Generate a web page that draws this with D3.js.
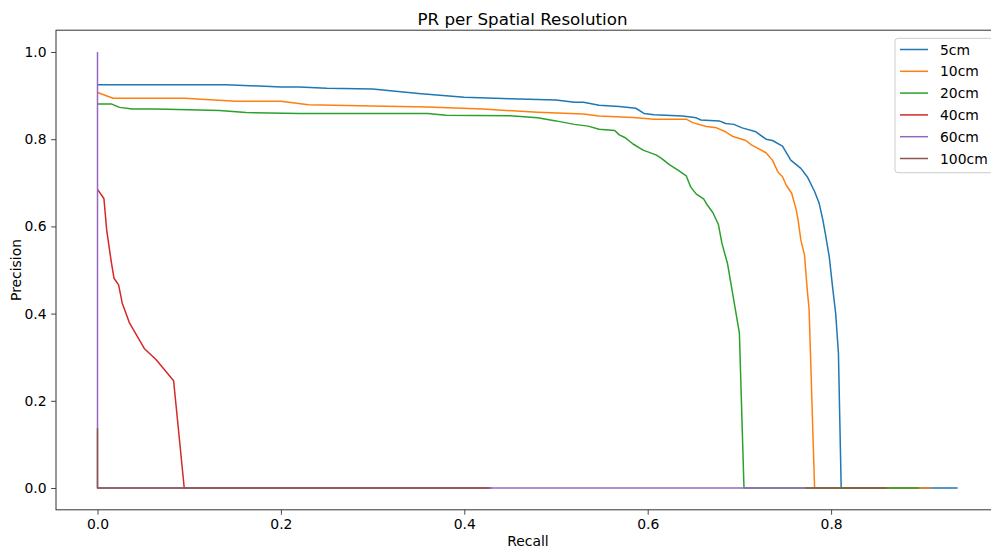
<!DOCTYPE html>
<html><head><meta charset="utf-8">
<script src="https://cdn.jsdelivr.net/npm/d3@7"></script>
<style>body{margin:0;background:#fff}svg{display:block}text{font-family:"DejaVu Sans",sans-serif;fill:#000}</style>
</head><body><svg id="c" width="991" height="548"></svg>
<script>
const seriesNames = ["5cm","10cm","20cm","40cm","60cm","100cm"];
const colors = ["#1f77b4","#ff7f0e","#2ca02c","#d62728","#9467bd","#8c564b"];
const xTicks = [0,0.2,0.4,0.6,0.8];
const yTicks = [0,0.2,0.4,0.6,0.8,1.0];

const recall5 = [0,0.14,0.20,0.22,0.25,0.30,0.35,0.40,0.45,0.50,0.52,0.53,0.547,0.569,0.587,0.596,0.607,0.638,0.653,0.658,0.678,0.685,0.694,0.703,0.718,0.729,0.736,0.747,0.756,0.767,0.774,0.782,0.787,0.791,0.794,0.798,0.802,0.805,0.808,0.811,0.938];
const prec5   = [0.925,0.925,0.920,0.920,0.917,0.915,0.905,0.896,0.893,0.890,0.885,0.885,0.878,0.875,0.871,0.859,0.856,0.853,0.849,0.844,0.842,0.836,0.834,0.826,0.817,0.800,0.797,0.784,0.752,0.733,0.714,0.680,0.653,0.615,0.580,0.530,0.454,0.400,0.309,0.0,0.0];

const recall10 = [0,0.017,0.095,0.151,0.20,0.23,0.30,0.36,0.42,0.48,0.53,0.547,0.584,0.607,0.642,0.649,0.664,0.675,0.685,0.693,0.707,0.713,0.729,0.736,0.742,0.747,0.751,0.757,0.762,0.764,0.767,0.771,0.774,0.776,0.782,0.909];
const prec10   = [0.907,0.894,0.894,0.887,0.887,0.879,0.876,0.874,0.869,0.862,0.858,0.853,0.850,0.846,0.846,0.838,0.829,0.826,0.817,0.806,0.797,0.787,0.769,0.752,0.725,0.714,0.695,0.676,0.638,0.615,0.569,0.534,0.454,0.41,0.0,0.0];

const recall20 = [0,0.015,0.024,0.038,0.064,0.133,0.162,0.22,0.36,0.38,0.45,0.48,0.50,0.52,0.535,0.547,0.564,0.569,0.575,0.584,0.595,0.609,0.615,0.624,0.633,0.642,0.647,0.653,0.661,0.665,0.671,0.677,0.681,0.687,0.692,0.700,0.705,0.896];
const prec20   = [0.881,0.881,0.873,0.869,0.869,0.866,0.861,0.859,0.859,0.855,0.854,0.849,0.842,0.834,0.830,0.823,0.820,0.810,0.804,0.789,0.775,0.764,0.756,0.741,0.729,0.716,0.690,0.674,0.663,0.649,0.632,0.605,0.561,0.515,0.454,0.355,0.0,0.0];

const recall40 = [0,0.007,0.010,0.015,0.018,0.023,0.027,0.035,0.051,0.064,0.083,0.0946,0.43];
const prec40   = [0.685,0.664,0.592,0.519,0.481,0.466,0.424,0.378,0.320,0.294,0.246,0.0,0.0];

const recall60 = [0,0,0.772];
const prec60   = [1.0,0.0,0.0];

const recall100 = [0,0,0.427,NaN,0.772,0.861];
const prec100   = [0.137,0,0,NaN,0,0];

const recalls = [recall5,recall10,recall20,recall40,recall60,recall100];
const precs = [prec5,prec10,prec20,prec40,prec60,prec100];

const svg = d3.select("#c");
const L = 56, T = 30.2, B = 509.8;
const x0 = 97.5, slope = 917;
const xMin = (L - x0)/slope, xMax = xMin + 1.0284;
const x = d3.scaleLinear().domain([xMin, xMax]).range([L, L + 1.0284*slope]);
const y = d3.scaleLinear().domain([-0.05, 1.05]).range([B, T]);
const R = x.range()[1];

svg.append("defs").append("clipPath").attr("id","clip").append("rect")
  .attr("x",L).attr("y",T).attr("width",R-L).attr("height",B-T);

const line = d3.line().defined(d => !isNaN(d[0])).x(d => x(d[0])).y(d => y(d[1]));
const g = svg.append("g").attr("clip-path","url(#clip)");
seriesNames.forEach((n,i) => {
  const pts = recalls[i].map((r,j) => [r, precs[i][j]]);
  g.append("path").datum(pts).attr("d", line).attr("fill","none")
    .attr("stroke", colors[i]).attr("stroke-width",1.5).attr("stroke-linejoin","round");
});

// axes
const xa = svg.append("g").attr("transform",`translate(0,${B})`)
  .call(d3.axisBottom(x).tickValues(xTicks).tickFormat(d3.format(".1f")).tickSizeOuter(0).tickSize(4.9).tickPadding(4.5));
const ya = svg.append("g").attr("transform",`translate(${L},0)`)
  .call(d3.axisLeft(y).tickValues(yTicks).tickFormat(d3.format(".1f")).tickSizeOuter(0).tickSize(4.9).tickPadding(4.5));
[xa,ya].forEach(a => {
  a.select(".domain").remove();
  a.selectAll("line").attr("stroke","#333").attr("stroke-width",0.9);
  a.selectAll("text").attr("font-size","13.9px").attr("font-family","DejaVu Sans").attr("fill","#000");
});
// spines
svg.append("rect").attr("x",L).attr("y",T).attr("width",R-L).attr("height",B-T)
  .attr("fill","none").attr("stroke","#333").attr("stroke-width",1);

svg.append("text").attr("x",(L+R)/2 - 5).attr("y",25).attr("text-anchor","middle")
  .attr("font-size","16.7px").text("PR per Spatial Resolution");
svg.append("text").attr("x",528).attr("y",546).attr("text-anchor","middle")
  .attr("font-size","13.9px").text("Recall");
svg.append("text").attr("transform","translate(21,270) rotate(-90)").attr("text-anchor","middle")
  .attr("font-size","13.9px").text("Precision");

// legend
const lg = svg.append("g");
lg.append("rect").attr("x",895).attr("y",38.3).attr("width",110).attr("height",134.4).attr("rx",3)
  .attr("fill","#fff").attr("fill-opacity",0.8).attr("stroke","#ccc").attr("stroke-width",1);
seriesNames.forEach((n,i) => {
  const yy = 49.5 + i*21.8;
  lg.append("line").attr("x1",900).attr("x2",928).attr("y1",yy).attr("y2",yy)
    .attr("stroke",colors[i]).attr("stroke-width",1.5);
  lg.append("text").attr("x",940).attr("y",yy+5).attr("font-size","13.9px").text(n);
});
</script></body></html>
